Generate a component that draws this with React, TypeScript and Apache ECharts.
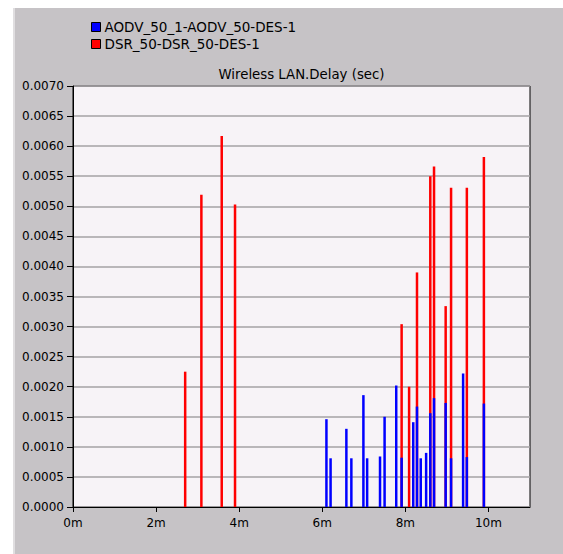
import React, { useEffect, useRef } from "react";
import * as echarts from "echarts";

const seriesNames = ["AODV_50_1-AODV_50-DES-1", "DSR_50-DSR_50-DES-1"];
const titleText = "Wireless LAN.Delay (sec)";

// time in minutes, delay in seconds
const aodvTimes = [6.10, 6.20, 6.58, 6.70, 6.99, 7.08, 7.39, 7.50, 7.78, 7.91, 8.19, 8.28, 8.37, 8.50, 8.60, 8.69, 8.97, 9.10, 9.39, 9.48, 9.89];
const aodvDelays = [0.00146, 0.00081, 0.00130, 0.00081, 0.00186, 0.00081, 0.00084, 0.00150, 0.00202, 0.00082, 0.00141, 0.00167, 0.00081, 0.00090, 0.00156, 0.00181, 0.00173, 0.00081, 0.00222, 0.00083, 0.00172];

const dsrTimes = [2.70, 3.09, 3.58, 3.90, 7.91, 8.09, 8.28, 8.60, 8.69, 8.97, 9.10, 9.48, 9.89];
const dsrDelays = [0.00225, 0.00519, 0.00617, 0.00503, 0.00304, 0.00200, 0.00390, 0.00550, 0.00566, 0.00334, 0.00531, 0.00531, 0.00582];

const xTickValues = [0, 2, 4, 6, 8, 10];

const FONT = "'DejaVu Sans', 'Liberation Sans', Arial, sans-serif";

export default function App() {
  const ref = useRef<HTMLDivElement>(null);

  useEffect(() => {
    if (!ref.current) return;
    const chart = echarts.init(ref.current, undefined, { renderer: "svg" });
    const aodvData = aodvTimes.map((t, i) => [t, aodvDelays[i]]);
    const dsrData = dsrTimes.map((t, i) => [t, dsrDelays[i]]);
    chart.setOption({
      animation: false,
      backgroundColor: "transparent",
      textStyle: { fontFamily: FONT },
      legend: {
        orient: "vertical",
        left: 86,
        top: 15,
        itemWidth: 9,
        itemHeight: 9,
        itemGap: 3,
        icon: "rect",
        data: seriesNames,
        itemStyle: { borderColor: "#000", borderWidth: 1 },
        textStyle: { fontFamily: FONT, fontSize: 13.5, color: "#000", padding: [0, 0, 0, -1] },
      },
      graphic: [
        {
          type: "text",
          x: 301.5,
          y: 74,
          style: {
            text: titleText,
            fontFamily: FONT,
            fontSize: 13.3,
            fill: "#000",
            textAlign: "center",
            textVerticalAlign: "middle",
          },
        },
      ],
      grid: {
        left: 73,
        right: 33,
        top: 86,
        bottom: 47,
        show: true,
        backgroundColor: "#f7f3f7",
        borderColor: "#000",
        borderWidth: 1,
      },
      xAxis: {
        type: "value",
        min: 0,
        max: 11,
        interval: 1,
        axisLine: { show: true, lineStyle: { color: "#000", width: 1 } },
        axisTick: { show: true, length: 5, customValues: xTickValues, lineStyle: { color: "#000" } },
        axisLabel: {
          customValues: xTickValues,
          formatter: (v: number) => `${v}m`,
          color: "#000",
          fontSize: 12,
          fontFamily: FONT,
          margin: 10,
        },
        splitLine: { show: false },
      },
      yAxis: {
        type: "value",
        min: 0,
        max: 0.007,
        interval: 0.0005,
        axisLine: { show: true, lineStyle: { color: "#000", width: 1 } },
        axisTick: { show: true, length: 6, lineStyle: { color: "#000" } },
        axisLabel: {
          formatter: (v: number) => v.toFixed(4),
          color: "#000",
          fontSize: 12,
          fontFamily: FONT,
          margin: 9,
        },
        splitLine: { show: true, lineStyle: { color: "#a4a2a4", width: 1.5 } },
      },
      series: [
        {
          name: seriesNames[1],
          type: "bar",
          data: dsrData,
          barWidth: 2.5,
          barGap: "-100%",
          z: 2,
          itemStyle: { color: "#ff0000" },
        },
        {
          name: seriesNames[0],
          type: "bar",
          data: aodvData,
          barWidth: 2.5,
          barGap: "-100%",
          z: 3,
          itemStyle: { color: "#0000ff" },
        },
      ],
    });
    return () => chart.dispose();
  }, []);

  return (
    <div style={{ position: "fixed", left: 0, top: 0, width: 563, height: 554, background: "#fff" }}>
      <div
        style={{
          position: "absolute",
          left: 13,
          top: 8,
          width: 550,
          height: 546,
          background: "#c6c3c6",
          borderLeft: "2px solid #e0dee0",
          boxSizing: "border-box",
        }}
      />
      <div ref={ref} style={{ position: "absolute", left: 0, top: 0, width: 563, height: 554 }} />
    </div>
  );
}
